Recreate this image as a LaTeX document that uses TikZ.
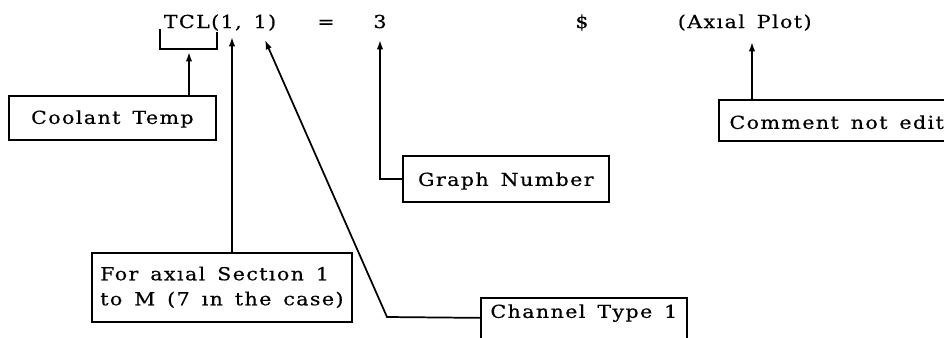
\documentclass[tikz,border=0pt]{standalone}
\usepackage{fontspec}
\setmainfont{DejaVu Serif}[LetterSpace=8, FakeStretch=1.15, FakeBold=0.5, WordSpace=1.5]
\usetikzlibrary{arrows.meta}
\newcommand\txtfont{\fontsize{13.4}{18.75}\selectfont}
\begin{document}
\begin{tikzpicture}[x=0.75pt,y=-0.75pt, line width=1.3pt,
  box/.style={draw, line width=1.3pt, inner xsep=0pt, inner ysep=0pt, anchor=north west, font=\txtfont},
  lbl/.style={inner sep=0pt, font=\txtfont},
  arr/.style={-{Latex[length=7pt,width=4.8pt]}}]
\useasboundingbox (0,0) rectangle (944,337);
\clip (0,0) rectangle (944,337);
% top line
\node[lbl, anchor=base west] (tcl) at (163,28) {TCL(1, 1)};
\node[lbl, anchor=base] (eq) at (326,28) {=};
\node[lbl, anchor=base] (three) at (380,28) {3};
\node[lbl, anchor=base] (dollar) at (582,28) {\$};
\node[lbl, anchor=base west] (axial) at (677,28) {(Axıal Plot)};
% bracket under TCL
\draw (160,29) -- (160,49) -- (217,49) -- (217,32);
% boxes
\node[box, minimum width=155.25pt, text height=21pt, text depth=12pt] (cool) at (8,95) {Coolant Temp};
\node[box, minimum width=154.5pt, text height=22.5pt, text depth=12pt] (graph) at (402,155) {Graph Number};
\node[box, inner xsep=8pt, text height=21.75pt, text depth=9pt] (com) at (718,99) {Comment not edit};
\node[box, minimum width=154.5pt, text height=15pt, text depth=21pt] (chan) at (480,297) {Channel Type 1};
\node[box, minimum width=195pt, minimum height=51.75pt, align=left] (ax) at (91,252) {For axıal Sectıon 1\\to M (7 ın the case)};
% connectors
\coordinate (t1) at (189,52);
\coordinate (t2) at (232,37);
\coordinate (t3) at (265,40);
\coordinate (k3) at (387,317);
\coordinate (t4) at (380,40);
\coordinate (t5) at (752,42);
\draw[arr] (cool.north -| t1) -- (t1);
\draw[arr] (ax.north -| t2) -- (t2);
\draw[arr] (chan.base west) -- (k3) -- (t3);
\draw[arr] (graph.west) -- (t4 |- graph.west) -- (t4);
\draw[arr] (com.north -| t5) -- (t5);
\end{tikzpicture}
\end{document}
